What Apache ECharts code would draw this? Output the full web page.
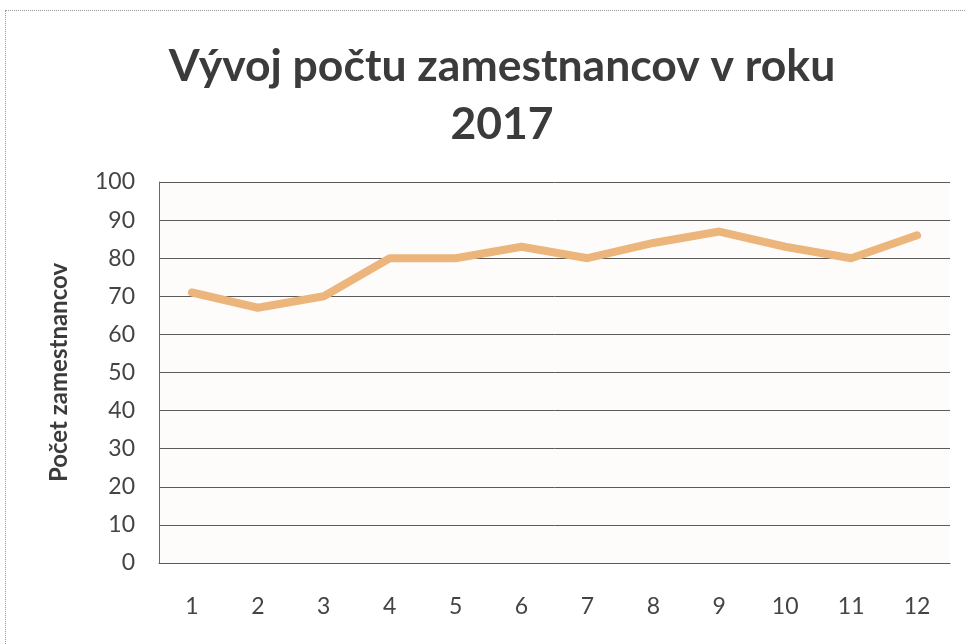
<!DOCTYPE html>
<html>
<head>
<meta charset="utf-8">
<script src="https://cdn.jsdelivr.net/npm/echarts@6/dist/echarts.min.js"></script>
<style>
  html, body { margin: 0; padding: 0; background: #fff; }
  #frame {
    position: absolute; left: 5px; top: 10px; width: 980px; height: 660px;
    border: 1px dotted #9a9a9a; box-sizing: border-box;
  }
  #chart { position: absolute; left: 0; top: 0; width: 966px; height: 644px; }
</style>
</head>
<body>
<div id="frame"></div>
<div id="chart"></div>
<script>
// mesiace a počet zamestnancov
const months = ["1", "2", "3", "4", "5", "6", "7", "8", "9", "10", "11", "12"]
const employees = [71, 67, 70, 80, 80, 83, 80, 84, 87, 83, 80, 86]
const yTicks = [0, 10, 20, 30, 40, 50, 60, 70, 80, 90, 100]

const chart = echarts.init(document.getElementById("chart"), null, { renderer: "canvas" })

const labelFont = "Lato, 'Open Sans', sans-serif"

const option = {
  animation: false,
  title: {
    text: "Vývoj počtu zamestnancov v roku\n2017",
    left: 497,
    textAlign: "center",
    top: 33,
    textStyle: {
      fontFamily: labelFont,
      fontWeight: "bold",
      fontSize: 44.5,
      lineHeight: 58,
      color: "#3b3b3b",
    },
  },
  grid: {
    left: 159,
    right: 16,
    top: 182,
    bottom: 81,
    show: true,
    backgroundColor: "#fefcfb",
    borderWidth: 0,
  },
  xAxis: {
    type: "category",
    data: months,
    boundaryGap: true,
    axisLine: { show: true, lineStyle: { color: "#5a5a5a", width: 1 } },
    axisTick: { show: false },
    axisLabel: {
      margin: 32,
      fontFamily: labelFont,
      fontSize: 23,
      color: "#444",
    },
  },
  yAxis: {
    type: "value",
    min: yTicks[0],
    max: yTicks[yTicks.length - 1],
    interval: 10,
    name: "Počet zamestnancov",
    nameLocation: "middle",
    nameGap: 88,
    nameRotate: 90,
    nameTextStyle: {
      fontFamily: labelFont,
      fontWeight: "bold",
      fontSize: 24,
      color: "#3b3b3b",
    },
    axisLine: { show: true, lineStyle: { color: "#6a6a6a", width: 1 } },
    axisTick: { show: false },
    axisLabel: {
      margin: 24,
      fontFamily: labelFont,
      fontSize: 23,
      color: "#444",
    },
    splitLine: { show: true, lineStyle: { color: "#5a5a5a", width: 1 } },
  },
  series: [
    {
      name: "Počet zamestnancov",
      type: "line",
      data: employees,
      symbol: "none",
      lineStyle: { color: "#ecb57c", width: 8, cap: "round", join: "round" },
    },
  ],
}

chart.setOption(option)
</script>
</body>
</html>
